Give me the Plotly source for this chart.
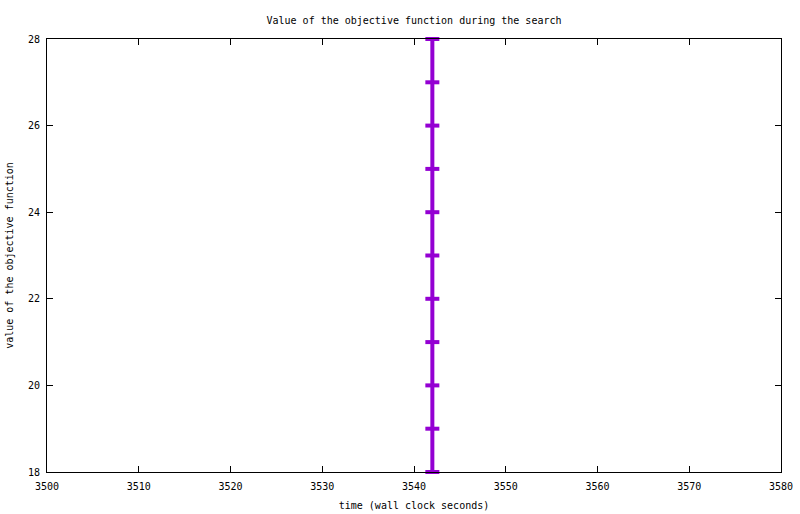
import plotly.graph_objects as go

# search trace: wall clock time vs objective value
time_s = [3542, 3542, 3542, 3542, 3542, 3542, 3542, 3542, 3542, 3542, 3542]
objective = [18, 19, 20, 21, 22, 23, 24, 25, 26, 27, 28]

x_ticks = [3500, 3510, 3520, 3530, 3540, 3550, 3560, 3570, 3580]
y_ticks = [18, 20, 22, 24, 26, 28]

mono = "DejaVu Sans Mono, Liberation Mono, monospace"
txt = dict(family=mono, size=10, color='black')

fig = go.Figure()
fig.add_trace(go.Scatter(
  x=time_s, y=objective, mode='lines+markers',
  line=dict(color='#9400D3', width=4),
  marker=dict(symbol='line-ew', size=10, line=dict(color='#9400D3', width=4)),
  showlegend=False, cliponaxis=False, hoverinfo='skip'))

axis_style = dict(
  showgrid=False, zeroline=False, showline=True, linecolor='black', linewidth=1,
  mirror='allticks', ticks='inside', ticklen=6, tickcolor='black', automargin=False,
  tickfont=txt)

fig.update_xaxes(range=[3500, 3580], tickvals=x_ticks, ticklabelstandoff=5, **axis_style,
  title=dict(text="time (wall clock seconds)", font=txt, standoff=10))
fig.update_yaxes(range=[18, 28], tickvals=y_ticks, ticklabelstandoff=4, **axis_style,
  title=dict(text="value of the objective function", font=txt, standoff=12))

fig.update_layout(
  width=800, height=514,
  margin=dict(l=47, r=19, t=39, b=42, autoexpand=False),
  plot_bgcolor='white', paper_bgcolor='white',
  title=dict(text="Value of the objective function during the search",
             font=txt, automargin=False, xref='paper',
             x=0.5, xanchor='center', y=0.961, yanchor='middle'),
)
# page body has a default margin; drop it so the figure sits at the window corner
fig.write_html("out.html", config={'displayModeBar': False},
               post_script="document.body.style.margin='0';")
